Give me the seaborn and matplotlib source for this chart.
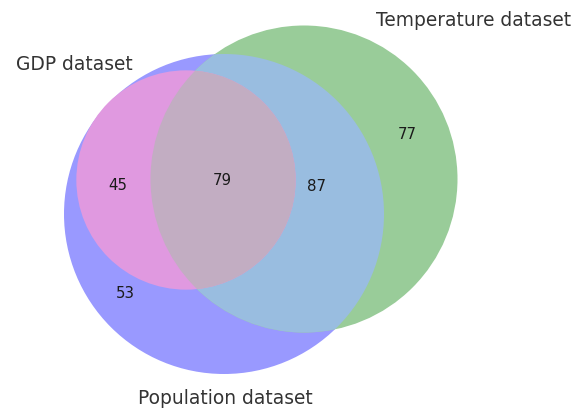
import numpy as np
import matplotlib
matplotlib.use("Agg")
import matplotlib.pyplot as plt
from matplotlib.patches import Circle
from matplotlib.colors import to_rgb
import seaborn as sns

# Sets: A = GDP, B = Temperature, C = Population
set_labels = ["GDP dataset", "Temperature dataset", "Population dataset"]
set_colors = ["r", "g", "b"]
# region order: Abc, aBc, ABc, abC, AbC, aBC, ABC
region_keys = ["100", "010", "110", "001", "101", "011", "111"]
subset_sizes = [0, 77, 0, 53, 45, 87, 79]

sizes = dict(zip(region_keys, subset_sizes))
area = [sum(v for k, v in sizes.items() if k[i] == "1") for i in range(3)]

sns.set_style("white")
fig = plt.figure(figsize=(5.83, 4.11), dpi=100)
ax = fig.add_axes([0, 0, 1, 1])
ax.set_xlim(0, 583)
ax.set_ylim(411, 0)
ax.axis("off")

# circle radii follow the set sizes, centres placed like the venn layout
scale = 160 / np.sqrt(area[2])
radius = [scale * np.sqrt(a) for a in area]
centre = [(186, 180), (304, 179), (224, 214)]
alpha = 0.4


def on_white(rgb):
    rgb = np.clip(np.array(rgb), 0, 1)
    return tuple(1 - alpha + alpha * rgb)


base = [np.array(to_rgb(c)) for c in set_colors]
col = {
    "100": on_white(base[0]),
    "010": on_white(base[1]),
    "001": on_white(base[2]),
    "101": on_white(0.7 * (base[0] + base[2])),
    "011": on_white(0.7 * (base[1] + base[2])),
    "111": on_white(0.4 * (base[0] + base[1] + base[2])),
}


def circ(i, **kw):
    return Circle(centre[i], radius[i], transform=ax.transData, lw=0, **kw)


ax.add_patch(circ(2, color=col["001"]))
ax.add_patch(circ(1, color=col["010"]))
p = ax.add_patch(circ(1, color=col["011"]))
p.set_clip_path(circ(2))
ax.add_patch(circ(0, color=col["101"]))
p = ax.add_patch(circ(1, color=col["111"]))
p.set_clip_path(circ(0))

# subset labels
label_pos = {"010": (407, 134), "001": (125, 293), "101": (118, 185),
             "011": (316, 186), "111": (222, 180)}
for k, (x, y) in label_pos.items():
    ax.text(x, y, str(sizes[k]), ha="center", va="center", fontsize=10.8,
            color="#1a1a1a")

# set labels
set_pos = [(74, 65), (474, 20), (225, 398)]
for lab, (x, y) in zip(set_labels, set_pos):
    ax.text(x, y, lab, ha="center", va="center", fontsize=13.4, color="#333333")

fig.savefig("out.png", dpi=100)
